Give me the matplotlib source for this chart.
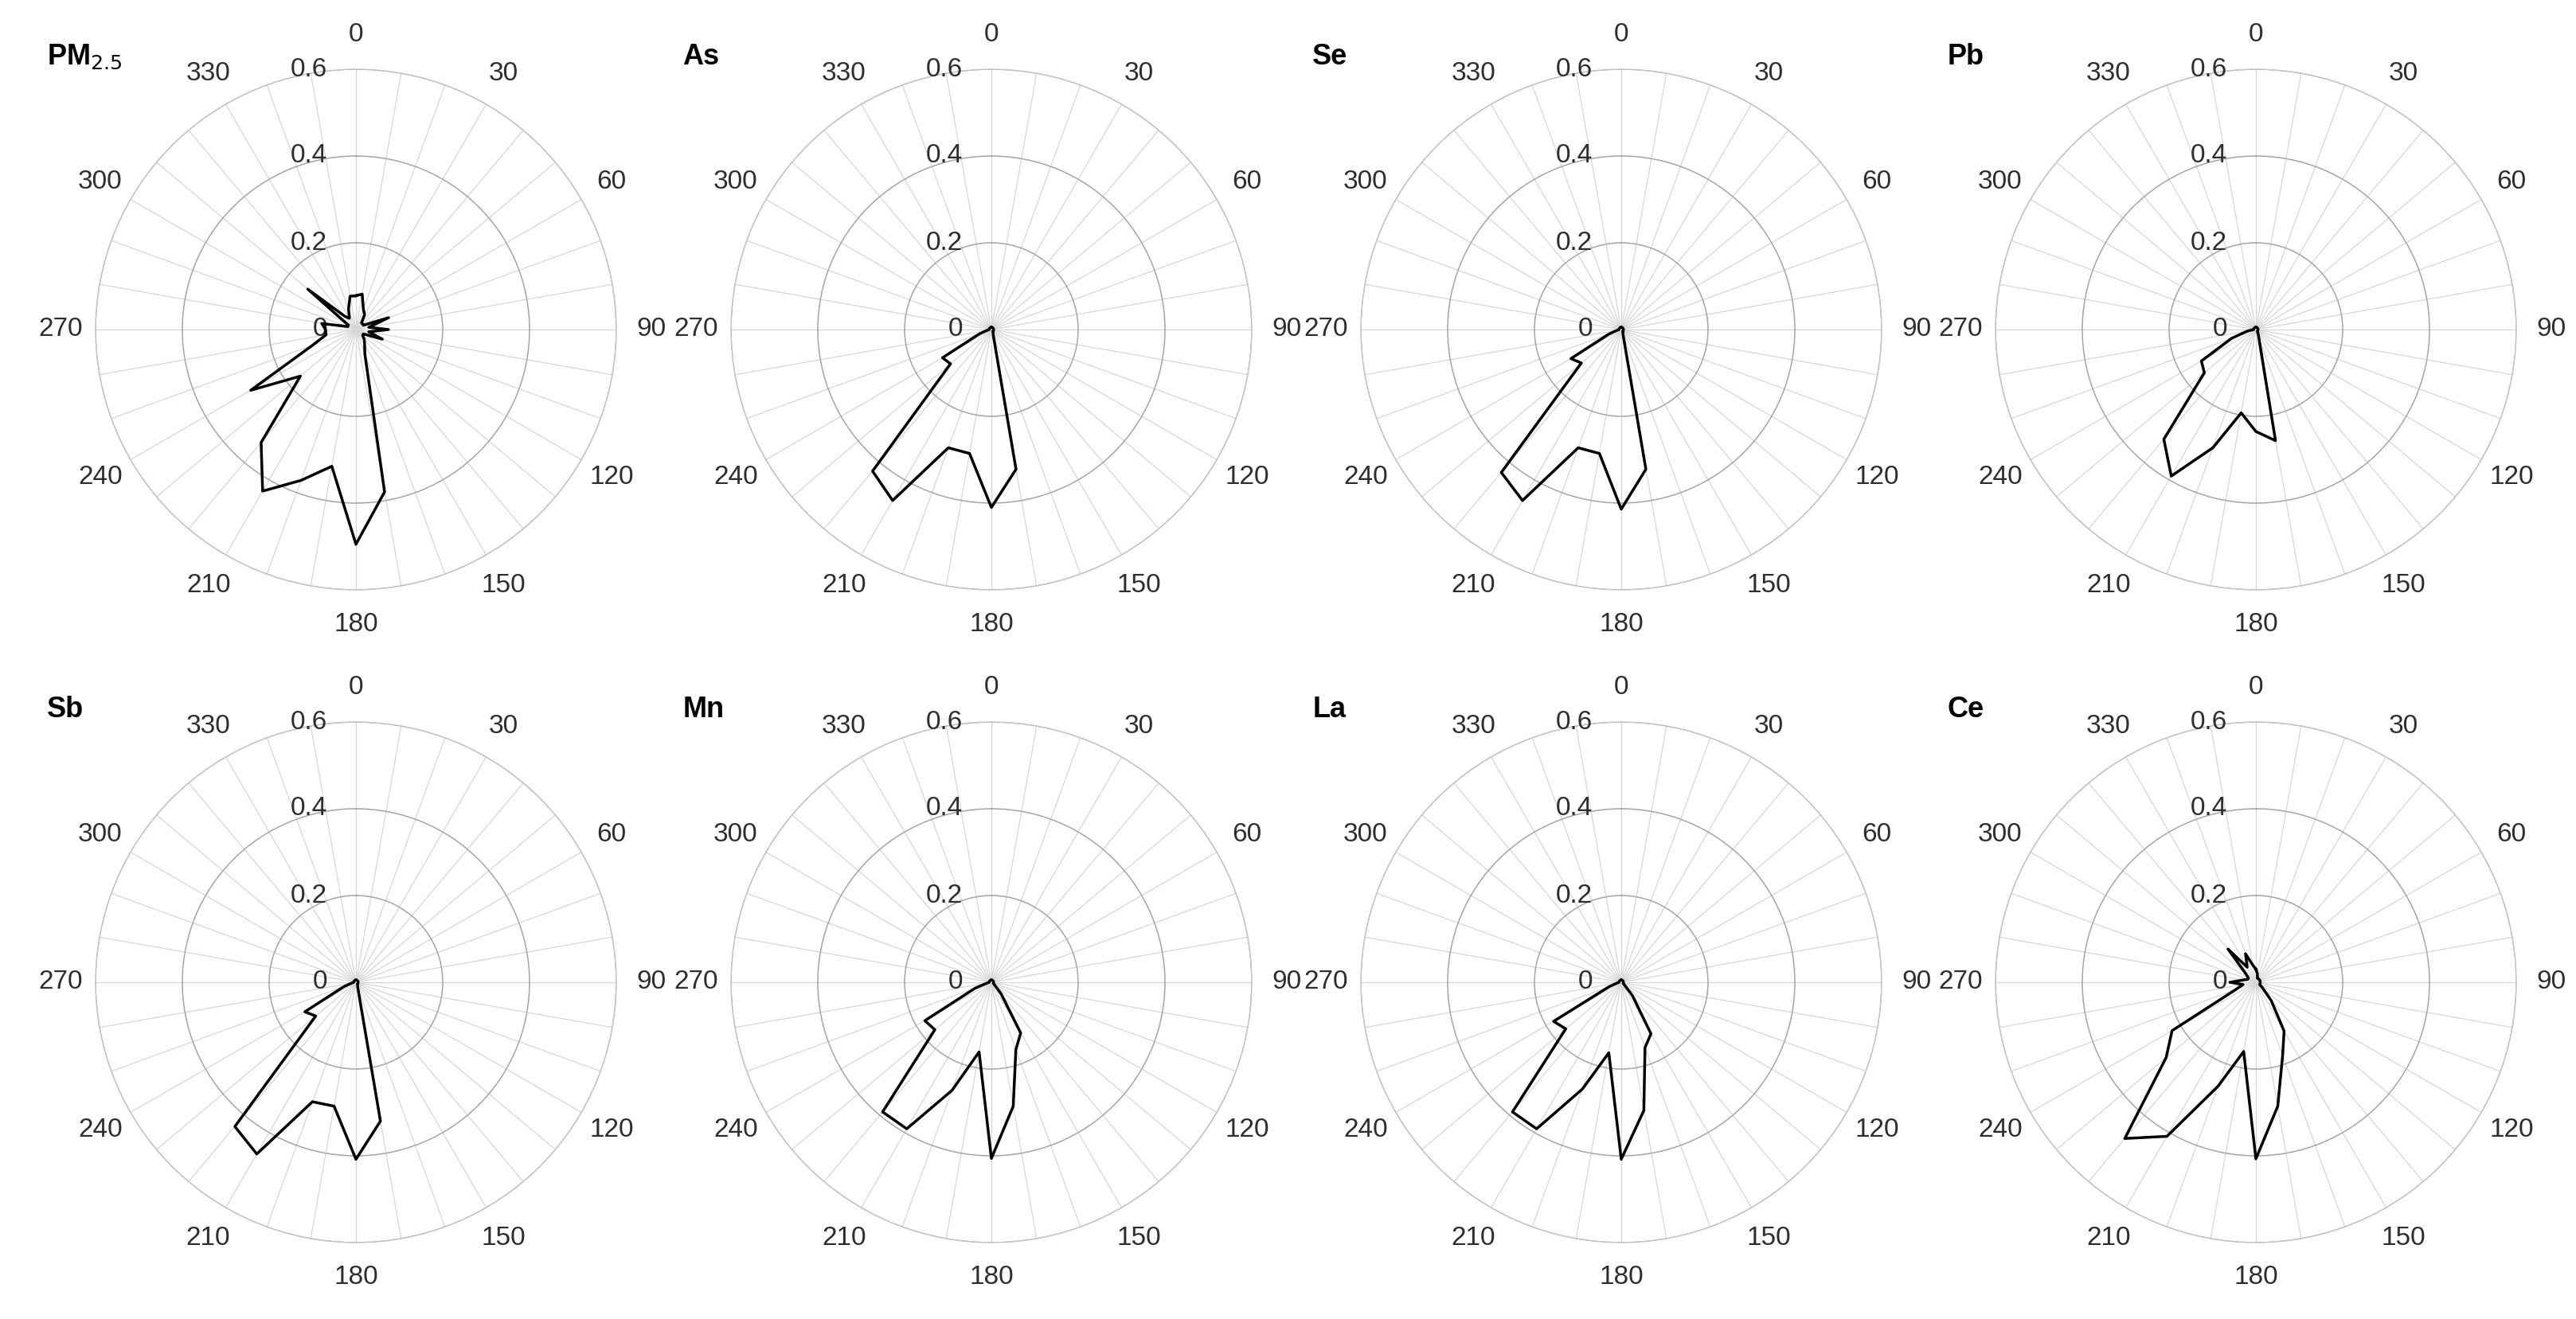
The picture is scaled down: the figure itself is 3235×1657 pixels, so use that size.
import matplotlib.pyplot as plt
import numpy as np

plt.rcParams['font.family'] = ['Liberation Sans', 'DejaVu Sans']

# wind direction bins (deg), one value per 10 degrees
angles = list(range(0, 360, 10))

pm25 = [0.078, 0.083, 0.05, 0.04, 0.02, 0.02, 0.02, 0.08, 0.03, 0.075, 0.03, 0.065,
        0.02, 0.02, 0.03, 0.04, 0.06, 0.38, 0.495, 0.32, 0.37, 0.43, 0.34, 0.167,
        0.28, 0.107, 0.07, 0.07, 0.08, 0.02, 0.02, 0.145, 0.04, 0.03, 0.05, 0.078]
as_ = [0.005, 0.005, 0.005, 0.005, 0.005, 0.005, 0.005, 0.005, 0.005, 0.005, 0.005, 0.005,
       0.005, 0.005, 0.005, 0.008, 0.012, 0.327, 0.41, 0.29, 0.29, 0.455, 0.426, 0.123,
       0.13, 0.03, 0.01, 0.005, 0.005, 0.005, 0.005, 0.005, 0.005, 0.005, 0.005, 0.005]
se = [0.005, 0.005, 0.005, 0.005, 0.005, 0.005, 0.005, 0.005, 0.005, 0.005, 0.005, 0.005,
      0.005, 0.005, 0.005, 0.008, 0.012, 0.327, 0.414, 0.29, 0.29, 0.455, 0.43, 0.12,
      0.134, 0.03, 0.01, 0.005, 0.005, 0.005, 0.005, 0.005, 0.005, 0.005, 0.005, 0.005]
pb = [0.005, 0.005, 0.005, 0.005, 0.005, 0.005, 0.005, 0.005, 0.005, 0.005, 0.005, 0.005,
      0.005, 0.005, 0.005, 0.01, 0.02, 0.26, 0.235, 0.195, 0.29, 0.39, 0.33, 0.155,
      0.145, 0.06, 0.02, 0.005, 0.005, 0.005, 0.005, 0.005, 0.005, 0.005, 0.005, 0.005]
sb = [0.005, 0.005, 0.005, 0.005, 0.005, 0.005, 0.005, 0.005, 0.005, 0.005, 0.005, 0.005,
      0.005, 0.005, 0.005, 0.008, 0.012, 0.325, 0.408, 0.29, 0.293, 0.457, 0.434, 0.121,
      0.136, 0.03, 0.01, 0.005, 0.005, 0.005, 0.005, 0.005, 0.005, 0.005, 0.005, 0.005]
mn = [0.005, 0.005, 0.005, 0.005, 0.005, 0.005, 0.005, 0.005, 0.005, 0.005, 0.005, 0.005,
      0.005, 0.01, 0.035, 0.135, 0.165, 0.29, 0.406, 0.163, 0.265, 0.39, 0.39, 0.17,
      0.177, 0.04, 0.01, 0.005, 0.005, 0.005, 0.005, 0.005, 0.005, 0.005, 0.005, 0.005]
la = [0.005, 0.005, 0.005, 0.005, 0.005, 0.005, 0.005, 0.005, 0.005, 0.005, 0.005, 0.005,
      0.005, 0.01, 0.04, 0.137, 0.16, 0.30, 0.408, 0.165, 0.262, 0.39, 0.39, 0.167,
      0.18, 0.03, 0.01, 0.005, 0.005, 0.005, 0.005, 0.005, 0.005, 0.005, 0.005, 0.005]
ce = [0.03, 0.02, 0.01, 0.01, 0.01, 0.01, 0.01, 0.01, 0.01, 0.01, 0.01, 0.01,
      0.01, 0.02, 0.055, 0.13, 0.18, 0.29, 0.407, 0.162, 0.255, 0.41, 0.47, 0.27,
      0.223, 0.05, 0.03, 0.06, 0.03, 0.02, 0.02, 0.03, 0.10, 0.04, 0.07, 0.04]

names = ['PM$_{2.5}$', 'As', 'Se', 'Pb', 'Sb', 'Mn', 'La', 'Ce']
series = [pm25, as_, se, pb, sb, mn, la, ce]

r_ticks = [0, 0.2, 0.4, 0.6]
r_labels = ['0', '0.2', '0.4', '0.6']
theta_labels = [str(a) if a % 30 == 0 else '' for a in angles]

W, H = 3235, 1657
fig = plt.figure(figsize=(W / 100, H / 100), dpi=100)

cx = [447, 1245, 2036, 2833]
cy = [414, 1234]
rad = 327

for i, (name, vals) in enumerate(zip(names, series)):
    row, col = divmod(i, 4)
    x0 = (cx[col] - rad) / W
    y0 = (H - cy[row] - rad) / H
    ax = fig.add_axes([x0, y0, 2 * rad / W, 2 * rad / H], projection='polar')
    ax.set_theta_zero_location('N')
    ax.set_theta_direction(-1)
    ax.set_ylim(0, 0.6)

    th = np.deg2rad(angles + [angles[0]])
    ax.plot(th, vals + [vals[0]], color='black', lw=2.5, zorder=5)

    ax.set_xticks(np.deg2rad(angles))
    ax.set_xticklabels(theta_labels, fontsize=24, color='#2e2e2e')
    ax.tick_params(axis='x', pad=21)
    ax.xaxis.grid(True, color='#d6d6d6', lw=0.9)

    ax.set_yticks(r_ticks)
    ax.set_yticklabels([])
    ax.yaxis.grid(True, color='#a5a5a5', lw=1.1)
    ax.spines['polar'].set_color('#c4c4c4')
    ax.spines['polar'].set_linewidth(1.0)

    for rv, lab in zip(r_ticks, r_labels):
        ax.annotate(lab, xy=(0, rv), xytext=(-26, 0), textcoords='offset points',
                    ha='right', va='center', fontsize=24, color='#2e2e2e')

    ax.text(-0.093, 1.024, name, transform=ax.transAxes, ha='left', va='center',
            fontsize=26, fontweight='bold')

fig.savefig('out.png', dpi=100, facecolor='white')
